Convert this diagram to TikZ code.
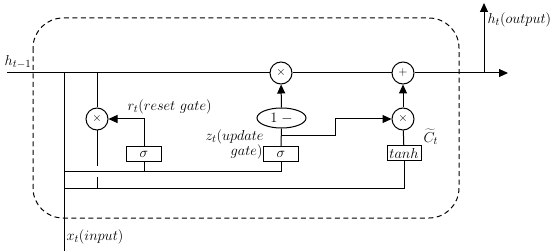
\documentclass[tikz,border=0pt]{standalone}
\usetikzlibrary{arrows.meta,shapes.geometric}
\begin{document}
\begin{tikzpicture}[x=1pt,y=-1pt,line width=1pt,
  op/.style={draw,circle,minimum size=22pt,inner sep=0pt,font=\fontsize{13}{14}\selectfont},
  gatebox/.style={draw,minimum width=35pt,minimum height=15pt,inner sep=0pt,font=\fontsize{14}{15}\selectfont},
  lbl/.style={inner sep=0pt,font=\fontsize{15}{16}\selectfont},
  arr/.style={-{Triangle[length=9pt,width=8pt]}},
  cellbox/.style={dashed,dash pattern=on 5pt off 3.5pt,rounded corners=30pt}]
\useasboundingbox (0,0) rectangle (557,251);
% dashed cell
\draw[cellbox] (33,18) rectangle (459,218);
% nodes
\node[op] (mulz) at (281,73) {$\times$};
\node[op] (add) at (403,73) {$+$};
\node[op] (mulr) at (97,119) {$\times$};
\node[op] (mulc) at (403,119) {$\times$};
\node[gatebox] (sigr) at (144,154.5) {$\sigma$};
\node[gatebox] (sigz) at (281,154.5) {$\sigma$};
\node[gatebox,minimum width=34pt] (tanh) at (404,153) {$tanh$};
\node[draw,ellipse,minimum width=49pt,minimum height=20pt,inner sep=0pt,font=\fontsize{14}{15}\selectfont] (onem) at (281.5,118) {$1\;-$};
% coordinates
\coordinate (hin) at (7,73);
\coordinate (hout) at (508,73);
\coordinate (obr) at (484,73);
\coordinate (otop) at (484,3);
\coordinate (xtop) at (64,73);
\coordinate (xbot) at (64,251);
\coordinate (rtop) at (97,73);
\coordinate (gapa) at (97,166);
\coordinate (gapb) at (97,177);
\coordinate (l1s) at (64,172);
\coordinate (l1r) at (144,172);
\coordinate (l1z) at (281,172);
\coordinate (l2s) at (64,188);
\coordinate (l2r) at (97,188);
\coordinate (l2e) at (404,188);
\coordinate (rcorner) at (144,119);
\coordinate (zbr) at (281,136);
\coordinate (zc1) at (335,136);
\coordinate (zc2) at (335,119);
% main line
\draw (hin) -- (mulz) -- (add);
\draw[arr] (add) -- (hout);
\draw[arr] (obr) -- (otop);
% input
\draw (xtop) -- (xbot);
\draw (l1s) -- (l1z) -- (sigz);
\draw (l1r) -- (sigr);
\draw (l2s) -- (l2e) -- (tanh);
% reset branch
\draw (rtop) -- (mulr);
\draw (mulr) -- (gapa);
\draw (gapb) -- (l2r);
\draw[arr] (sigr.north) -- (rcorner) -- (mulr);
% update branch
\draw (sigz) -- (onem);
\draw[arr] (onem) -- (mulz);
\draw[arr] (zbr) -- (zc1) -- (zc2) -- (mulc);
\draw (tanh) -- (mulc);
\draw[arr] (mulc) -- (add);
% labels
\node[lbl,anchor=center] (lh) at (18,62) {$h_{t-1}$};
\node[lbl,anchor=west] (lo) at (487,20) {$h_t(output)$};
\node[lbl,anchor=west] (lx) at (66,237) {$x_t(input)$};
\node[lbl,anchor=west] (lr) at (127,107) {$r_t(reset\ gate)$};
\node[lbl,anchor=east] (lz1) at (264,137) {$z_t(update$};
\node[lbl,anchor=east] (lz2) at (263,152) {$gate)$};
\node[lbl,anchor=west] (lc) at (423,137) {$\widetilde{C}_t$};
\end{tikzpicture}
\end{document}
